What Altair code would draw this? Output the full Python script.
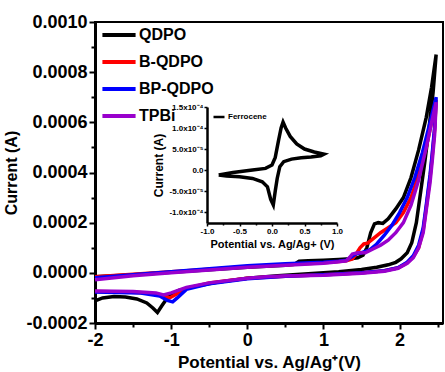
import altair as alt
import pandas as pd

# ---------------- data ----------------
series_names = ["QDPO", "B-QDPO", "BP-QDPO", "TPBi"]
series_colors = ["#000000", "#ff0000", "#0000ff", "#9900cc"]

qdpo_E = [-2.0, -1.5, -1.0, -0.5, 0.0, 0.5, 0.62, 0.68, 0.8, 1.0, 1.2, 1.35, 1.45, 1.52, 1.57, 1.62, 1.67, 1.72,
          1.78, 1.85, 1.95, 2.05, 2.15, 2.25, 2.35, 2.42, 2.48,
          2.44, 2.38, 2.33, 2.28, 2.22, 2.16, 2.1, 2.02, 1.95, 1.85, 1.7, 1.5, 1.2, 0.8, 0.4, 0.0, -0.4, -0.7,
          -0.9, -1.0, -1.05, -1.12, -1.18, -1.24, -1.32, -1.45, -1.6, -1.75, -1.9, -2.0]
qdpo_I = [-0.000016, -0.000008, 0.000002, 0.000012, 0.000022, 0.00003, 0.000034, 0.000046, 0.000048, 0.00005,
          0.000053, 0.000056, 0.00006, 0.00007, 0.0001, 0.00016, 0.000195, 0.0002, 0.000197, 0.000215, 0.000255,
          0.0003, 0.00038, 0.00049, 0.00062, 0.00074, 0.00087,
          0.00072, 0.00056, 0.00044, 0.00033, 0.0002, 0.00012, 0.00008, 0.000056, 0.000042, 0.000032, 0.000022,
          0.000013, 0.000004, -0.000004, -0.000012, -0.000022, -0.000038, -0.000055, -0.00007, -0.000085, -0.0001,
          -0.00013, -0.000158, -0.00014, -0.00012, -0.000104, -0.000096, -0.000094, -0.0001, -0.000112]

bq_E = [-2.0, -1.5, -1.0, -0.5, 0.0, 0.5, 1.0, 1.2, 1.3, 1.38, 1.44, 1.48, 1.53, 1.58, 1.65, 1.75, 1.85, 1.95,
        2.05, 2.15, 2.25, 2.35, 2.42, 2.48,
        2.46, 2.43, 2.4, 2.35, 2.31, 2.25, 2.18, 2.1, 1.98, 1.8, 1.5, 1.0, 0.5, 0.0, -0.5, -0.8, -0.95, -1.02,
        -1.1, -1.3, -1.6, -2.0]
bq_I = [-0.000016, -0.000006, 0.000004, 0.000014, 0.000024, 0.000032, 0.00004, 0.000045, 0.000048, 0.000055,
        0.00008, 0.0001, 0.000115, 0.000118, 0.000135, 0.00016, 0.00018, 0.0002, 0.00024, 0.0003, 0.00039,
        0.0005, 0.0006, 0.00069,
        0.00057, 0.00047, 0.00038, 0.00026, 0.00017, 0.0001, 0.000064, 0.00004, 0.00002, 0.000008, 0.0,
        -0.000008, -0.000014, -0.000022, -0.00004, -0.000062, -0.000088, -0.0001, -0.00009, -0.00008,
        -0.000076, -0.000074]

bpq_E = [-2.0, -1.5, -1.0, -0.5, 0.0, 0.5, 1.0, 1.2, 1.3, 1.36, 1.42, 1.5, 1.6, 1.7, 1.8, 1.9, 2.0, 2.1, 2.2,
         2.3, 2.4, 2.48,
         2.46, 2.43, 2.4, 2.35, 2.31, 2.25, 2.18, 2.1, 1.98, 1.8, 1.5, 1.0, 0.5, 0.0, -0.5, -0.8, -0.92, -0.98,
         -1.05, -1.15, -1.4, -1.7, -2.0]
bpq_I = [-0.00002, -0.000008, 0.000004, 0.000016, 0.000028, 0.000036, 0.000042, 0.000046, 0.00005, 0.000062,
         0.000075, 0.00008, 0.00009, 0.000115, 0.00015, 0.00019, 0.00024, 0.0003, 0.00038, 0.00048, 0.0006,
         0.0007,
         0.00058, 0.00048, 0.00039, 0.00027, 0.00018, 0.00011, 0.000068, 0.000042, 0.00002, 0.000008, 0.0,
         -0.000008, -0.000014, -0.000024, -0.000044, -0.000066, -0.0001, -0.000116, -0.00011, -0.000092,
         -0.00008, -0.000078, -0.000076]

tpbi_E = [-2.0, -1.5, -1.0, -0.5, 0.0, 0.5, 1.0, 1.2, 1.3, 1.34, 1.38, 1.45, 1.55, 1.65, 1.75, 1.85, 1.95, 2.05,
          2.15, 2.25, 2.35, 2.42, 2.48,
          2.46, 2.43, 2.4, 2.35, 2.31, 2.25, 2.18, 2.1, 1.98, 1.8, 1.5, 1.0, 0.5, 0.25, 0.0, -0.5, -0.8, -1.0,
          -1.1, -1.2, -1.5, -2.0]
tpbi_I = [-0.000028, -0.000012, 0.0, 0.000011, 0.000022, 0.00003, 0.000038, 0.000044, 0.000048, 0.00006,
          0.000075, 0.00008, 0.00008, 0.000095, 0.00011, 0.00013, 0.00016, 0.0002, 0.00027, 0.00037, 0.0005,
          0.0006, 0.00068,
          0.00055, 0.00045, 0.00036, 0.00025, 0.00016, 0.0001, 0.00006, 0.000038, 0.000018, 0.000006, -0.000002,
          -0.00001, -0.000013, -0.000016, -0.000022, -0.00004, -0.000058, -0.00008, -0.000088, -0.00008,
          -0.000074, -0.000072]

fc_name = "Ferrocene"
fc_E = [-0.82, -0.6, -0.3, -0.1, 0.0, 0.05, 0.1, 0.14, 0.17, 0.21, 0.28, 0.38, 0.5, 0.65, 0.8,
        0.75, 0.6, 0.45, 0.3, 0.18, 0.12, 0.08, 0.05, 0.02, -0.02, -0.07, -0.15, -0.3, -0.5, -0.7, -0.82]
fc_I = [-0.000012, -0.000006, 0.0, 0.000004, 0.000012, 0.00003, 0.00007, 0.0001, 0.000114, 0.0001, 0.00008,
        0.000062, 0.00005, 0.000043, 0.000038,
        0.000034, 0.000031, 0.000029, 0.000026, 0.00002, 0.000008, -0.00002, -0.00005, -0.000083, -0.00007,
        -0.00004, -0.000028, -0.00002, -0.000016, -0.000014, -0.000012]

# major ticks with labels, minor ticks without
x_ticks = [-2.0, -1.0, 0.0, 1.0, 2.0]
x_labels = ["-2", "-1", "0", "1", "2"]
x_minor = [-1.5, -0.5, 0.5, 1.5, 2.5]
y_ticks = [-0.0002, 0.0, 0.0002, 0.0004, 0.0006, 0.0008, 0.0010]
y_labels = ["-0.0002", "0.0000", "0.0002", "0.0004", "0.0006", "0.0008", "0.0010"]
y_minor = [-0.0001, 0.0001, 0.0003, 0.0005, 0.0007, 0.0009]

ix_ticks = [-1.0, -0.5, 0.0, 0.5, 1.0]
ix_labels = ["-1.0", "-0.5", "0.0", "0.5", "1.0"]
ix_minor = [-0.75, -0.25, 0.25, 0.75]
iy_ticks = [-0.0001, -0.00005, 0.0, 0.00005, 0.0001, 0.00015]
iy_labels = ["-1.0x10⁻⁴", "-5.0x10⁻⁵", "0.0", "5.0x10⁻⁵", "1.0x10⁻⁴", "1.5x10⁻⁴"]

FONT = "Liberation Sans"
MAIN_X = dict(domain=[-2.0, 2.57], nice=False, zero=False)
MAIN_Y = dict(domain=[-0.0002, 0.0010], nice=False, zero=False)
INS_X = dict(domain=[-1.0, 1.0], range=[112, 242], nice=False, zero=False)
INS_Y = dict(domain=[-0.000126, 0.00015], range=[201, 85], nice=False, zero=False)


def js_list(lst):
    return "[" + ",".join("'" + s + "'" for s in lst) + "]"


def frame(name, E, I):
    return pd.DataFrame({"E": E, "I": I, "name": name, "idx": list(range(len(E)))})


color_scale = alt.Scale(domain=series_names, range=series_colors)

x_axis = alt.Axis(
    orient="bottom", values=x_ticks,
    labelExpr=js_list(x_labels) + "[round(datum.value)+2]",
    tickSize=6, tickWidth=2, domainWidth=3, tickColor="black", domainColor="black",
    labelFont=FONT, labelFontSize=18, labelFontWeight="bold", labelColor="black",
    labelPadding=2, labelOverlap=False, labelFlush=False,
    title="Potential vs. Ag/Ag⁺(V)", titleFont=FONT, titleFontSize=17, titleFontWeight="bold",
    titleColor="black", titlePadding=5, grid=False,
)
y_axis = alt.Axis(
    orient="left", values=y_ticks,
    labelExpr=js_list(y_labels) + "[round(datum.value*5000)+1]",
    tickSize=6, tickWidth=2, domainWidth=3, tickColor="black", domainColor="black",
    labelFont=FONT, labelFontSize=18, labelFontWeight="bold", labelColor="black",
    labelPadding=2, labelOverlap=False, labelFlush=False,
    title="Current (A)", titleFont=FONT, titleFontSize=16, titleFontWeight="bold",
    titleColor="black", titlePadding=6, grid=False,
)

main_legend = alt.Legend(
    title=None, orient="none", legendX=5, legendY=-6,
    symbolType="stroke", symbolSize=1100, symbolStrokeWidth=4,
    labelFont=FONT, labelFontSize=16, labelFontWeight="bold", labelColor="black",
    rowPadding=-9.5, padding=0, labelOffset=1,
)


def series_layer(name, E, I):
    return alt.Chart(frame(name, E, I)).mark_line(strokeWidth=3.5).encode(
        x=alt.X("E:Q", scale=alt.Scale(**MAIN_X), axis=x_axis),
        y=alt.Y("I:Q", scale=alt.Scale(**MAIN_Y), axis=y_axis),
        color=alt.Color("name:N", scale=color_scale, legend=main_legend),
        order="idx:Q",
    )


main = alt.layer(
    series_layer("QDPO", qdpo_E, qdpo_I),
    series_layer("B-QDPO", bq_E, bq_I),
    series_layer("BP-QDPO", bpq_E, bpq_I),
    series_layer("TPBi", tpbi_E, tpbi_I),
)

# invisible layer that only carries the minor ticks of the main axes
main_minor = alt.Chart(frame("QDPO", qdpo_E, qdpo_I)).mark_line(opacity=0).encode(
    x=alt.X("E:Q", scale=alt.Scale(**MAIN_X),
            axis=alt.Axis(orient="bottom", values=x_minor, labels=False, domain=False, title=None,
                          tickSize=4, tickWidth=2, tickColor="black", grid=False)),
    y=alt.Y("I:Q", scale=alt.Scale(**MAIN_Y),
            axis=alt.Axis(orient="left", values=y_minor, labels=False, domain=False, title=None,
                          tickSize=4, tickWidth=2, tickColor="black", grid=False)),
    order="idx:Q",
)

ix_axis = alt.Axis(
    orient="bottom", offset=-100, values=ix_ticks,
    labelExpr=js_list(ix_labels) + "[round(datum.value*2)+2]",
    tickSize=3, tickWidth=1.5, domainWidth=2.5, tickColor="black", domainColor="black",
    labelFont=FONT, labelFontSize=8, labelFontWeight="bold", labelColor="black",
    labelPadding=1, labelOverlap=False, labelFlush=False,
    title="Potential vs. Ag/Ag+ (V)", titleFont=FONT, titleFontSize=11, titleFontWeight="bold",
    titleColor="black", titlePadding=3, grid=False,
)
iy_axis = alt.Axis(
    orient="left", offset=-112, values=iy_ticks,
    labelExpr=js_list(iy_labels) + "[round(datum.value/0.00005)+2]",
    tickSize=3, tickWidth=1.5, domainWidth=2.5, tickColor="black", domainColor="black",
    labelFont=FONT, labelFontSize=8, labelFontWeight="bold", labelColor="black",
    labelPadding=1, labelOverlap=False, labelFlush=False,
    title="Current (A)", titleFont=FONT, titleFontSize=12, titleFontWeight="bold",
    titleColor="black", titlePadding=3, grid=False,
)

inset = alt.Chart(frame(fc_name, fc_E, fc_I)).mark_line(strokeWidth=3.5, color="black").encode(
    x=alt.X("E:Q", scale=alt.Scale(**INS_X), axis=ix_axis),
    y=alt.Y("I:Q", scale=alt.Scale(**INS_Y), axis=iy_axis),
    color=alt.Color("name:N", scale=alt.Scale(domain=[fc_name], range=["black"]),
                    legend=alt.Legend(title=None, orient="none", legendX=117, legendY=88,
                                      symbolType="stroke", symbolSize=121, symbolStrokeWidth=2.5,
                                      labelFont=FONT, labelFontSize=8, labelFontWeight="bold",
                                      labelColor="black", padding=0, labelOffset=2)),
    order="idx:Q",
)

inset_minor = alt.Chart(frame(fc_name, fc_E, fc_I)).mark_line(opacity=0).encode(
    x=alt.X("E:Q", scale=alt.Scale(**INS_X),
            axis=alt.Axis(orient="bottom", offset=-100, values=ix_minor, labels=False, domain=False,
                          title=None, tickSize=2, tickWidth=1.5, tickColor="black", grid=False)),
    y=alt.Y("I:Q", scale=alt.Scale(**INS_Y),
            axis=alt.Axis(orient="left", offset=-112, values=[], labels=False, domain=False,
                          title=None, ticks=False, grid=False)),
    order="idx:Q",
)

chart = alt.layer(main, inset, main_minor, inset_minor).resolve_scale(
    x="independent", y="independent", color="independent"
).properties(
    width=348, height=301,
    autosize=alt.AutoSizeParams(type="none"),
    padding={"left": 95, "top": 22, "right": 2, "bottom": 49},
    background="white",
).configure_view(stroke="black", strokeWidth=2)

chart.save("out.html", embed_options={"renderer": "svg", "actions": False})
